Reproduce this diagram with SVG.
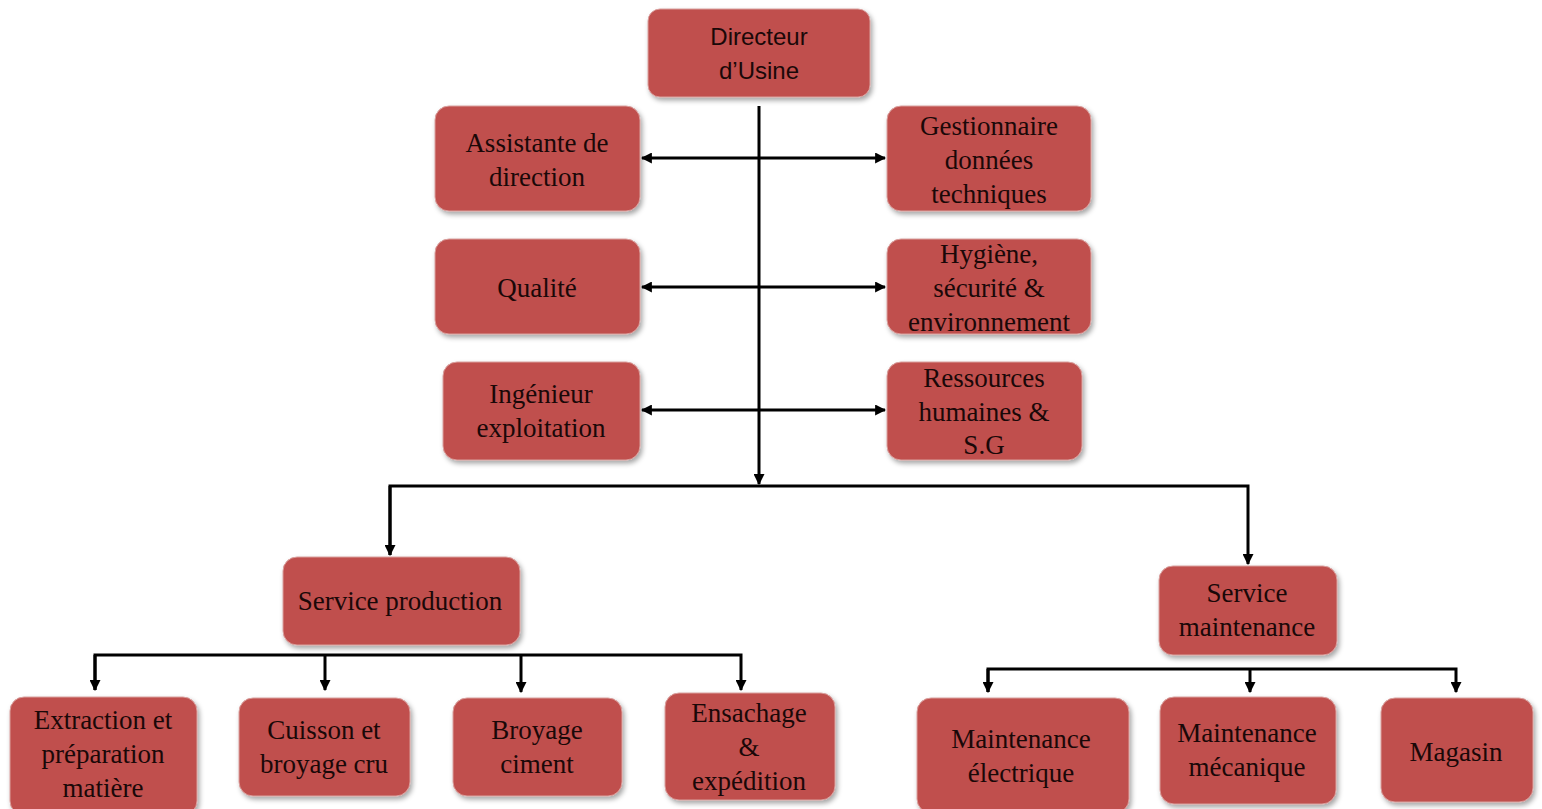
<svg xmlns="http://www.w3.org/2000/svg" width="1542" height="809" viewBox="0 0 1542 809">
<defs>
<filter id="sh" x="-10%" y="-10%" width="125%" height="130%">
<feDropShadow dx="2" dy="3" stdDeviation="2.5" flood-color="#000" flood-opacity="0.35"/>
</filter>
<marker id="ah" viewBox="0 0 10 10" refX="9" refY="5" markerWidth="11" markerHeight="11" markerUnits="userSpaceOnUse" orient="auto-start-reverse">
<path d="M0,0 L10,5 L0,10 z" fill="#000"/>
</marker>
<style>
.box{fill:#c0504d;stroke:#d9a09e;stroke-width:1;filter:url(#sh)}
.t{font-family:"Liberation Serif","Times New Roman",serif;font-size:27px;fill:#1a0808;text-anchor:middle}
.s{font-family:"Liberation Sans",Arial,sans-serif;font-size:24px;fill:#1a0808;text-anchor:middle}
.c{fill:none;stroke:#000;stroke-width:3}
</style>
</defs>
<rect width="1542" height="809" fill="#fff"/>
<g id="connectors">
<line class="c" x1="759" y1="106" x2="759" y2="484" marker-end="url(#ah)"/>
<line class="c" x1="642" y1="158" x2="885" y2="158" marker-start="url(#ah)" marker-end="url(#ah)"/>
<line class="c" x1="642" y1="287" x2="885" y2="287" marker-start="url(#ah)" marker-end="url(#ah)"/>
<line class="c" x1="642" y1="410" x2="885" y2="410" marker-start="url(#ah)" marker-end="url(#ah)"/>
<polyline class="c" points="390,555 390,486 1248,486 1248,564" marker-end="url(#ah)"/>
<line class="c" x1="390" y1="486" x2="390" y2="555" marker-end="url(#ah)"/>
<polyline class="c" points="95,690 95,655 741,655 741,690" marker-end="url(#ah)"/>
<line class="c" x1="95" y1="655" x2="95" y2="690" marker-end="url(#ah)"/>
<line class="c" x1="325" y1="655" x2="325" y2="690" marker-end="url(#ah)"/>
<line class="c" x1="521" y1="655" x2="521" y2="692" marker-end="url(#ah)"/>
<polyline class="c" points="988,692 988,669 1456,669 1456,692" marker-end="url(#ah)"/>
<line class="c" x1="988" y1="669" x2="988" y2="692" marker-end="url(#ah)"/>
<line class="c" x1="1250" y1="669" x2="1250" y2="692" marker-end="url(#ah)"/>
</g>
<g id="directeur"><rect class="box" x="648" y="9" width="222" height="88" rx="12"/><text class="s" x="759" y="45">Directeur</text><text class="s" x="759" y="79">d’Usine</text></g>
<g id="assistante"><rect class="box" x="435" y="106" width="205" height="105" rx="14"/><text class="t" x="537" y="152">Assistante de</text><text class="t" x="537" y="186">direction</text></g>
<g id="gestionnaire"><rect class="box" x="887" y="106" width="204" height="105" rx="14"/><text class="t" x="989" y="135">Gestionnaire</text><text class="t" x="989" y="169">données</text><text class="t" x="989" y="203">techniques</text></g>
<g id="qualite"><rect class="box" x="435" y="239" width="205" height="95" rx="14"/><text class="t" x="537" y="297">Qualité</text></g>
<g id="hygiene"><rect class="box" x="887" y="239" width="204" height="95" rx="14"/><text class="t" x="989" y="263">Hygiène,</text><text class="t" x="989" y="297">sécurité &amp;</text><text class="t" x="989" y="331">environnement</text></g>
<g id="ingenieur"><rect class="box" x="443" y="362" width="197" height="98" rx="14"/><text class="t" x="541" y="403">Ingénieur</text><text class="t" x="541" y="437">exploitation</text></g>
<g id="ressources"><rect class="box" x="887" y="362" width="195" height="98" rx="14"/><text class="t" x="984" y="387">Ressources</text><text class="t" x="984" y="421">humaines &amp;</text><text class="t" x="984" y="454">S.G</text></g>
<g id="service-production"><rect class="box" x="283" y="557" width="237" height="88" rx="14"/><text class="t" x="400" y="610">Service production</text></g>
<g id="service-maintenance"><rect class="box" x="1159" y="566" width="178" height="89" rx="14"/><text class="t" x="1247" y="602">Service</text><text class="t" x="1247" y="636">maintenance</text></g>
<g id="extraction"><rect class="box" x="10" y="697" width="187" height="118" rx="14"/><text class="t" x="103" y="729">Extraction et</text><text class="t" x="103" y="763">préparation</text><text class="t" x="103" y="797">matière</text></g>
<g id="cuisson"><rect class="box" x="239" y="698" width="171" height="98" rx="14"/><text class="t" x="324" y="739">Cuisson et</text><text class="t" x="324" y="773">broyage cru</text></g>
<g id="broyage"><rect class="box" x="453" y="698" width="169" height="98" rx="14"/><text class="t" x="537" y="739">Broyage</text><text class="t" x="537" y="773">ciment</text></g>
<g id="ensachage"><rect class="box" x="665" y="693" width="170" height="107" rx="14"/><text class="t" x="749" y="722">Ensachage</text><text class="t" x="749" y="756">&amp;</text><text class="t" x="749" y="790">expédition</text></g>
<g id="maint-elec"><rect class="box" x="917" y="698" width="212" height="115" rx="14"/><text class="t" x="1021" y="748">Maintenance</text><text class="t" x="1021" y="782">électrique</text></g>
<g id="maint-meca"><rect class="box" x="1160" y="697" width="176" height="107" rx="14"/><text class="t" x="1247" y="742">Maintenance</text><text class="t" x="1247" y="776">mécanique</text></g>
<g id="magasin"><rect class="box" x="1381" y="698" width="152" height="104" rx="14"/><text class="t" x="1456" y="761">Magasin</text></g>
</svg>
